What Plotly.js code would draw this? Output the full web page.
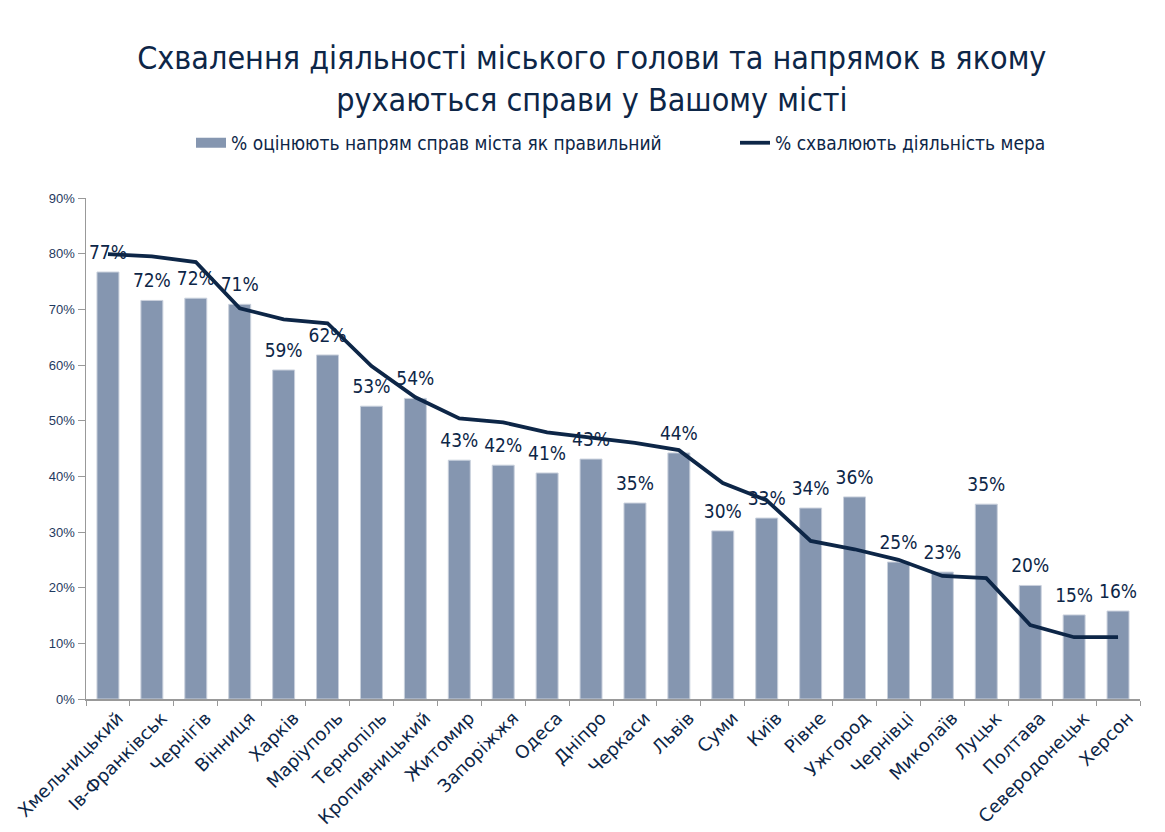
<!DOCTYPE html>
<html>
<head>
<meta charset="utf-8">
<script src="https://cdn.plot.ly/plotly-3.0.1.min.js"></script>
<style>html,body{margin:0;padding:0;background:#fff;}#chart{width:1165px;height:832px;}</style>
</head>
<body>
<div id="chart"></div>
<script>
const cities = ["Хмельницький","Ів-Франківськ","Чернігів","Вінниця","Харків","Маріуполь","Тернопіль","Кропивницький","Житомир","Запоріжжя","Одеса","Дніпро","Черкаси","Львів","Суми","Київ","Рівне","Ужгород","Чернівці","Миколаїв","Луцьк","Полтава","Северодонецьк","Херсон"];
const directionRight = [76.7,71.6,72.0,70.9,59.1,61.8,52.6,54.0,42.9,42.0,40.6,43.1,35.2,44.2,30.2,32.5,34.3,36.3,24.6,22.8,35.0,20.4,15.1,15.8];
const approveMayor = [79.9,79.5,78.5,70.2,68.2,67.5,59.8,54.2,50.4,49.7,47.9,46.9,46.0,44.7,38.8,35.7,28.4,26.9,25.0,22.1,21.7,13.3,11.1,11.1];
const yTicks = [0,10,20,30,40,50,60,70,80,90];
const yTickLabels = ["0%","10%","20%","30%","40%","50%","60%","70%","80%","90%"];
const barName = "% оцінюють напрям справ міста як правильний";
const lineName = "% схвалюють діяльність мера";

const navy = "#0d2647";
const barColor = "#8596b0";
const legendFont = {family: "DejaVu Sans Condensed, DejaVu Sans", size: 19, color: navy};
const traces = [
  {
    type: "bar", x: cities, y: directionRight, name: barName, showlegend: false,
    marker: {color: barColor, line: {color: "#c9d0dc", width: 1}},
    hoverinfo: "skip"
  },
  {
    type: "scatter", mode: "lines", x: cities, y: approveMayor, name: lineName,
    line: {color: navy, width: 3.8}, hoverinfo: "skip", legend: "legend2"
  },
  {
    // value labels above the bars
    type: "scatter", mode: "markers+text", x: cities, y: directionRight, showlegend: false,
    marker: {size: 12, color: "rgba(0,0,0,0)"},
    texttemplate: "%{y:.0f}%", textposition: "top center",
    textfont: {family: "DejaVu Sans Condensed, DejaVu Sans", size: 19, color: navy},
    cliponaxis: false, hoverinfo: "skip"
  },
  {
    // legend key for the bars (wide box like the original)
    type: "scatter", mode: "lines", x: [null], y: [null], name: barName,
    line: {color: barColor, width: 12}, hoverinfo: "skip", legend: "legend"
  }
];
const layout = {
  width: 1165, height: 832,
  margin: {l: 86, r: 25, t: 198, b: 133},
  paper_bgcolor: "#fff", plot_bgcolor: "#fff",
  title: {
    text: "Схвалення діяльності міського голови та напрямок в якому<br>рухаються справи у Вашому місті",
    font: {family: "DejaVu Sans Condensed, DejaVu Sans", size: 32, color: navy},
    x: 0.508, xref: "container", xanchor: "center",
    y: 0.917, yref: "container", yanchor: "top"
  },
  showlegend: true,
  legend: {
    orientation: "h", x: (191 - 86) / 1054, xanchor: "left", y: 1.11, yanchor: "middle",
    font: legendFont, itemwidth: 30, bgcolor: "rgba(0,0,0,0)"
  },
  legend2: {
    orientation: "h", x: (735 - 86) / 1054, xanchor: "left", y: 1.11, yanchor: "middle",
    font: legendFont, itemwidth: 30, bgcolor: "rgba(0,0,0,0)"
  },
  bargap: 0.5,
  xaxis: {
    type: "category", tickangle: -45, range: [-0.5, cities.length - 0.5],
    tickfont: {family: "DejaVu Sans", size: 18, color: navy},
    ticklabelshift: 10,
    showline: true, linecolor: "#999", linewidth: 1.5,
    ticks: "outside", tickson: "boundaries", ticklen: 5, tickcolor: "#999",
    showgrid: false
  },
  yaxis: {
    range: [0, 90], tickvals: yTicks, ticktext: yTickLabels,
    tickfont: {family: "Liberation Sans, Arial", size: 13, color: "#1f3a60"},
    showline: true, linecolor: "#999", linewidth: 1.5,
    ticks: "outside", ticklen: 7, tickcolor: "#999",
    showgrid: false, zeroline: false
  }
};
Plotly.newPlot("chart", traces, layout, {displayModeBar: false, staticPlot: true});
</script>
</body>
</html>
